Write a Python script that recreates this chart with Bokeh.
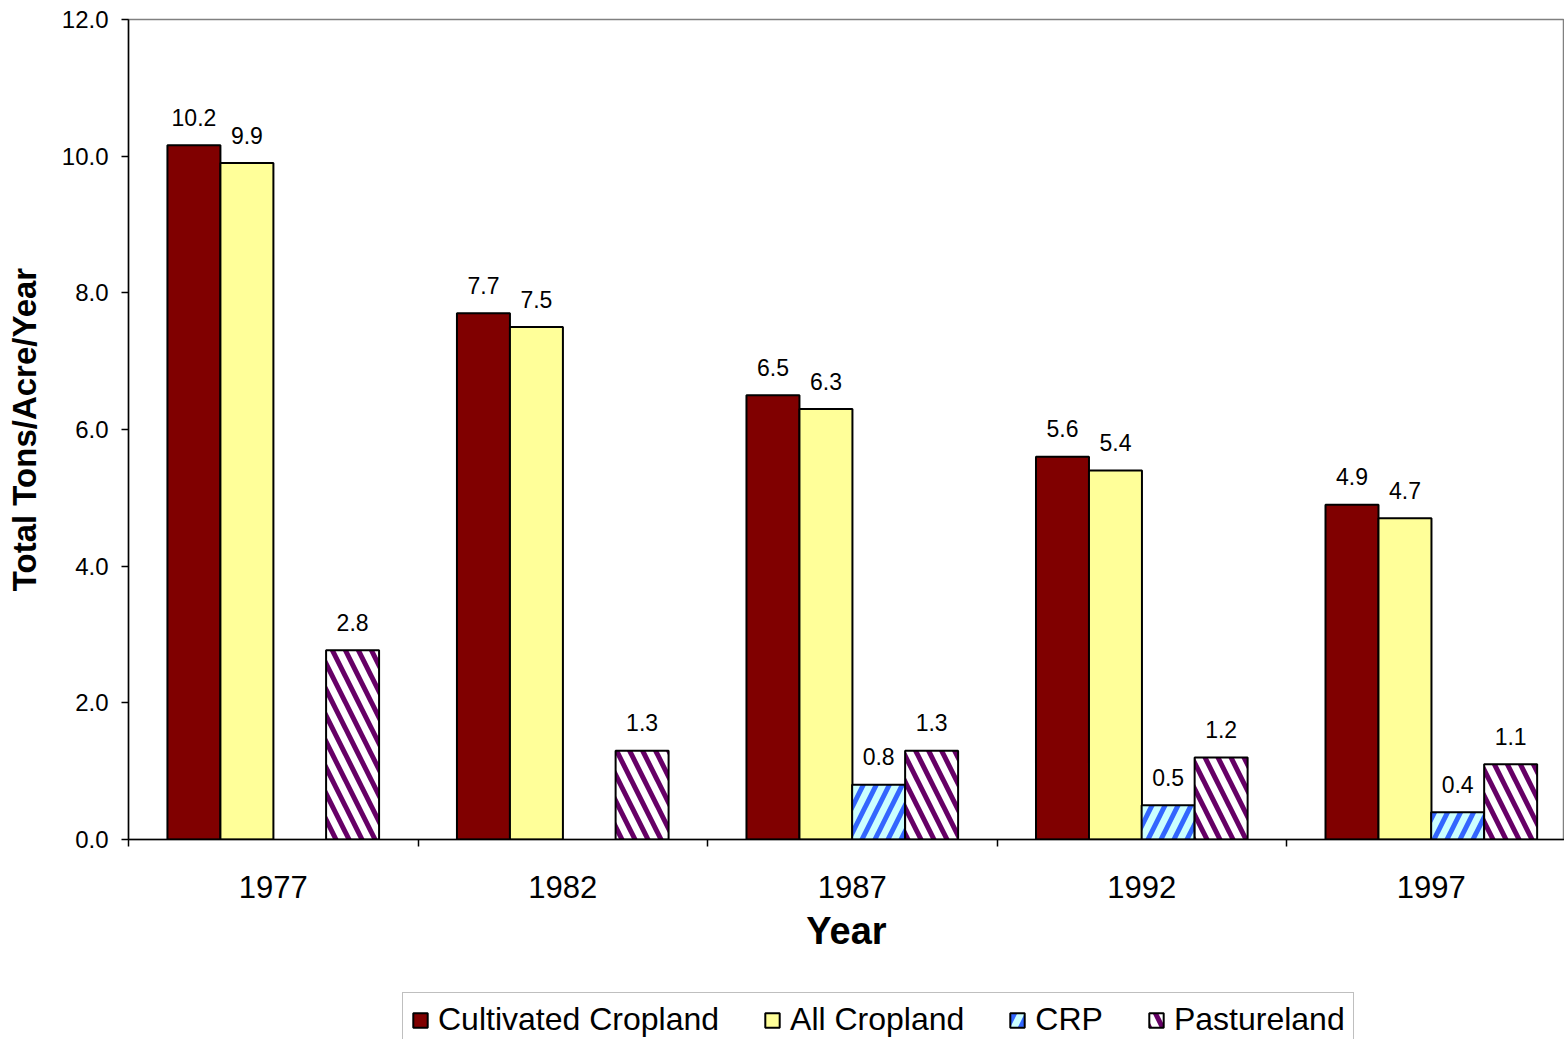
import math
from bokeh.plotting import figure
from bokeh.layouts import column
from bokeh.models import FixedTicker, Range1d, Legend, LegendItem, ColumnDataSource
from bokeh.core.properties import value
from bokeh.embed import file_html
from bokeh.resources import INLINE

years = ["1977", "1982", "1987", "1992", "1997"]
cultivated = [10.16, 7.7, 6.5, 5.6, 4.9]
all_cropland = [9.9, 7.5, 6.3, 5.4, 4.7]
crp = [math.nan, math.nan, 0.8, 0.5, 0.4]
pasture = [2.77, 1.3, 1.3, 1.2, 1.1]
y_ticks = [0, 2, 4, 6, 8, 10, 12]

FONT = "Liberation Sans"
BAR_W = 0.183
offsets = [-0.274, -0.091, 0.091, 0.274]

p = figure(width=1564, height=985, output_backend="svg", toolbar_location=None,
           x_range=Range1d(0, 4.96), y_range=Range1d(0, 12),
           min_border_left=128, min_border_right=0, min_border_top=19, min_border_bottom=146)
p.background_fill_color = "white"
p.border_fill_color = "white"
p.outline_line_color = "#808080"
p.outline_line_width = 1.5
p.xgrid.visible = False
p.ygrid.visible = False

series = [
    ("Cultivated Cropland", cultivated, dict(fill_color="#800000")),
    ("All Cropland", all_cropland, dict(fill_color="#FFFF99")),
    ("CRP", crp, dict(fill_color="#CCFFFF", hatch_pattern="right_diagonal_line",
                      hatch_color="#3366FF", hatch_scale=26, hatch_weight=5)),
    ("Pastureland", pasture, dict(fill_color="white", hatch_pattern="left_diagonal_line",
                                  hatch_color="#660066", hatch_scale=26, hatch_weight=5)),
]

# legend strip below the chart; its bars are squashed flat and sit behind the opaque legend box
lg = figure(width=1564, height=54, output_backend="svg", toolbar_location=None,
            x_range=Range1d(-1.507, 6.47), y_range=Range1d(0, 1000), x_axis_type=None, y_axis_type=None,
            min_border=0, min_border_left=0, min_border_right=0, min_border_top=0, min_border_bottom=0)
lg.outline_line_color = None
lg.xgrid.visible = False
lg.ygrid.visible = False
lg.background_fill_color = "white"
lg.border_fill_color = "white"

items = []
for k, (name, vals, style) in enumerate(series):
    xs = [i + 0.5 + offsets[k] for i in range(len(years))]
    src = ColumnDataSource(dict(x=xs, top=vals))
    p.vbar(x="x", top="top", width=BAR_W, source=src, line_color="black", line_width=2, **style)
    lr = lg.vbar(x="x", top="top", width=BAR_W, source=src, line_color="black", line_width=2, **style)
    items.append(LegendItem(label=name, renderers=[lr], index=4))
    lx = [x for x, v in zip(xs, vals) if not math.isnan(v)]
    lv = [v for v in vals if not math.isnan(v)]
    lsrc = ColumnDataSource(dict(x=lx, y=lv, t=[f"{v:.1f}" for v in lv]))
    p.text(x="x", y="y", text="t", source=lsrc, text_align="center", text_baseline="alphabetic",
           y_offset=-28, text_font=value(FONT), text_font_size="23px", text_color="black")

# x axis: labels at category centres, tick marks at category boundaries
xa = p.xaxis[0]
xa.ticker = FixedTicker(ticks=[i + 0.5 for i in range(len(years))],
                        minor_ticks=list(range(len(years) + 1)))
xa.major_label_overrides = {i + 0.5: y for i, y in enumerate(years)}
xa.major_tick_line_color = None
xa.major_tick_out = 0
xa.major_tick_in = 0
xa.minor_tick_out = 7
xa.minor_tick_in = 0
xa.minor_tick_line_color = "black"
xa.minor_tick_line_width = 1.5
xa.axis_line_color = "black"
xa.axis_line_width = 1.5
xa.major_label_text_font = FONT
xa.major_label_text_font_size = "31px"
xa.major_label_text_color = "black"
xa.major_label_standoff = 29
xa.axis_label = "Year"
xa.axis_label_text_font = FONT
xa.axis_label_text_font_style = "bold"
xa.axis_label_text_font_size = "38px"
xa.axis_label_text_color = "black"
xa.axis_label_standoff = 9

ya = p.yaxis[0]
ya.ticker = FixedTicker(ticks=y_ticks)
ya.major_label_overrides = {t: f"{t:.1f}" for t in y_ticks}
ya.minor_tick_line_color = None
ya.major_tick_out = 7
ya.major_tick_in = 0
ya.major_tick_line_width = 1.5
ya.axis_line_width = 1.5
ya.major_label_text_font = FONT
ya.major_label_text_font_size = "24px"
ya.major_label_text_color = "black"
ya.major_label_standoff = 13
ya.axis_label = "Total Tons/Acre/Year"
ya.axis_label_text_font = FONT
ya.axis_label_text_font_style = "bold"
ya.axis_label_text_font_size = "33px"
ya.axis_label_text_color = "black"
ya.axis_label_standoff = 16

legend = Legend(items=items, orientation="horizontal", location=(274, -8),
                label_text_font=FONT, label_text_font_size="32px", label_text_color="black",
                glyph_width=18, glyph_height=18, label_standoff=9, spacing=44,
                padding=8, margin=0, border_line_color="#808080", border_line_width=1.5,
                background_fill_color="white", background_fill_alpha=1)
lg.add_layout(legend, "center")

page = column(p, lg, spacing=0)
open("out.html", "w").write(file_html(page, INLINE))
